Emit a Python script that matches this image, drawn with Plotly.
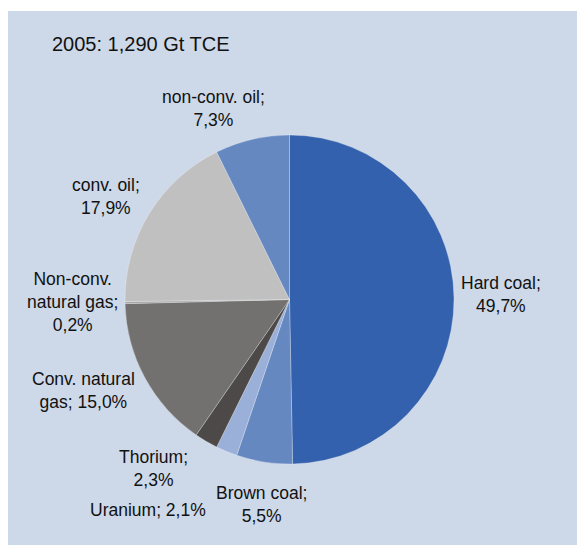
import plotly.graph_objects as go

labels = ["Hard coal", "Brown coal", "Uranium", "Thorium", "Conv. natural gas",
          "Non-conv. natural gas", "conv. oil", "non-conv. oil"]
values = [49.7, 5.5, 2.1, 2.3, 15.0, 0.2, 17.9, 7.3]
label_text = ["Hard coal;<br>{v}", "Brown coal;<br>{v}", "Uranium; {v}", "Thorium;<br>{v}",
              "Conv. natural<br>gas; {v}", "Non-conv.<br>natural gas;<br>{v}",
              "conv. oil;<br>{v}", "non-conv. oil;<br>{v}"]
colors = ["#3361AD", "#6688C1", "#9AB0D8", "#4D4948", "#72716F", "#A5A5A5", "#C0C0C0", "#6688C1"]
title_text = "2005: 1,290 Gt TCE"
BG = "#CDD8E8"

W, H = 577, 545
# label block centres in window pixels
label_pos = [(501, 294.5), (261, 504.5), (148, 510), (153, 468), (83, 390), (73, 302), (106, 196), (213, 108)]

def px(x):
    return x / W

def py(y):
    return 1 - y / H

fig = go.Figure()
fig.add_trace(go.Pie(
    labels=labels, values=values, sort=False, direction="clockwise", rotation=0,
    marker=dict(colors=colors, line=dict(color="rgba(255,255,255,0.45)", width=0.6)),
    textinfo="none", hoverinfo="label+percent", showlegend=False,
    domain=dict(x=[px(125), px(454)], y=[py(464), py(135)]),
))

annotations = []
for lab, val, tmpl, (lx, ly) in zip(labels, values, label_text, label_pos):
    vs = (f"{val:.1f}".replace(".", ",")) + "%"
    annotations.append(dict(
        text=tmpl.format(v=vs), x=px(lx), y=py(ly), xref="paper", yref="paper",
        xanchor="center", yanchor="middle", showarrow=False, align="center",
        font=dict(family="Liberation Sans, Arial, sans-serif", size=17.5, color="#111111"),
    ))
annotations.append(dict(
    text=title_text, x=px(50), y=py(43.5), xref="paper", yref="paper",
    xanchor="left", yanchor="middle", showarrow=False,
    font=dict(family="Liberation Sans, Arial, sans-serif", size=20, color="#111111"),
))

fig.update_layout(
    width=W, height=H, margin=dict(l=0, r=0, t=0, b=0),
    paper_bgcolor=BG, plot_bgcolor=BG,
    annotations=annotations,
    shapes=[
        # white strip along the top and the left edge
        dict(type="rect", xref="paper", yref="paper", x0=-0.02, x1=1.02, y0=py(11), y1=1.02,
             fillcolor="white", line=dict(width=0), layer="below"),
        dict(type="rect", xref="paper", yref="paper", x0=-0.02, x1=px(8), y0=-0.02, y1=1.02,
             fillcolor="white", line=dict(width=0), layer="below"),
    ],
)
fig.write_html(
    "out.html",
    config={"displayModeBar": False},
    post_script=("document.body.style.margin='0';"
                 "document.body.style.background='" + BG + "';"
                 "document.body.style.overflow='hidden';"
                 "document.documentElement.style.overflow='hidden';"
                 "document.documentElement.style.background='" + BG + "';"),
)
